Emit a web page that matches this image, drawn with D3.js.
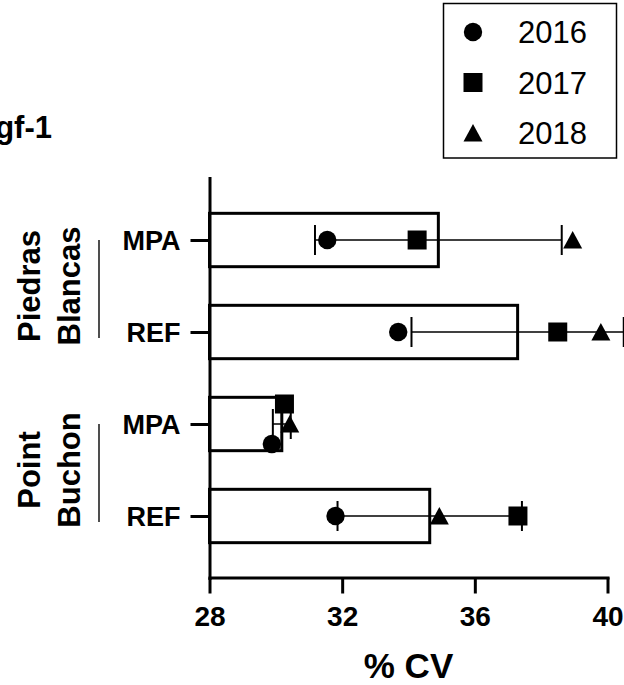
<!DOCTYPE html>
<html>
<head>
<meta charset="utf-8">
<script src="https://cdn.jsdelivr.net/npm/d3@7"></script>
<style>
  html, body { margin: 0; padding: 0; background: #fff; }
  svg { display: block; font-family: "Liberation Sans", Arial, sans-serif; }
</style>
</head>
<body>
<svg id="chart" width="624" height="685"></svg>
<script>
// Row labels (top to bottom) and their site groups
const rowLabels = ["MPA", "REF", "MPA", "REF"];
const siteGroups = [["Piedras", "Blancas"], ["Point", "Buchon"]];
const groupRows = [[0, 1], [2, 3]];

// Per-year %CV for each row
const years = ["2016", "2017", "2018"];
const cv2016 = [31.55, 33.69, 29.88, 31.80];
const cv2017 = [34.26, 38.50, 30.26, 37.30];
const cv2018 = [38.95, 39.80, 30.42, 34.93];

// Bar = mean across years, whisker = SD
const cvMean = [34.90, 37.29, 30.18, 34.64];
const cvSD = [3.72, 3.20, 0.27, 2.78];

// Axis ticks
const xTicks = [28, 32, 36, 40];
const xTitle = "% CV";
const panelTitle = "gf-1";

const svg = d3.select("#chart");
const rowKeys = rowLabels.map((d, i) => i);

const x = d3.scaleLinear().domain([28, 40]).range([209.5, 607.5]);
const y = d3.scalePoint().domain(rowKeys).range([178, 578]).padding(0.674);
const barH = y.step() * 0.58;

// Bars (outlined, white fill)
svg.append("g").selectAll("rect")
  .data(cvMean)
  .join("rect")
  .attr("x", x(28))
  .attr("y", (d, i) => y(i) - barH / 2)
  .attr("width", d => x(d) - x(28))
  .attr("height", barH)
  .attr("fill", "#fff")
  .attr("stroke", "#000")
  .attr("stroke-width", 3);

// Axes
const yAxis = svg.append("g")
  .attr("transform", `translate(${x(28)},0)`)
  .call(d3.axisLeft(y).tickSize(19).tickSizeOuter(0).tickPadding(11)
    .tickFormat(i => rowLabels[i]));
const xAxis = svg.append("g")
  .attr("transform", "translate(0,577.5)")
  .call(d3.axisBottom(x).tickValues(xTicks).tickSize(16).tickSizeOuter(0).tickPadding(12)
    .tickFormat(d3.format("d")));

[yAxis, xAxis].forEach(g => {
  g.select(".domain").attr("stroke", "#000").attr("stroke-width", 3).attr("stroke-linecap", "square");
  g.selectAll(".tick line").attr("stroke", "#000").attr("stroke-width", 3);
  g.selectAll(".tick text")
    .attr("fill", "#000")
    .attr("font-family", "'Liberation Sans', Arial, sans-serif")
    .attr("font-weight", "bold")
    .attr("font-size", 27);
});
yAxis.selectAll(".tick text").attr("dy", "0.36em").attr("x", -29);
xAxis.selectAll(".tick text").attr("dy", "0.72em").attr("font-size", 28);

// Marker shapes
const markerSize = 19;
function markerPath(kind) {
  const s = markerSize / 2;
  if (kind === 0) return d3.symbol(d3.symbolCircle, Math.PI * 9.2 * 9.2)();
  if (kind === 1) return `M${-s},${-s}H${s}V${s}H${-s}Z`;
  return `M0,${-9}L${s},${8.5}L${-s},${8.5}Z`;
}

// Points with simple collision-avoiding vertical spread
const series = [cv2016, cv2017, cv2018];
const points = [];
rowKeys.forEach(r => {
  const pts = series.map((vals, k) => ({ row: r, kind: k, v: vals[r] }))
    .sort((a, b) => b.v - a.v);
  const placed = [];
  const offs = [0, -20, 20, -40, 40];
  pts.forEach(p => {
    for (const o of offs) {
      const hit = placed.some(q => Math.abs(x(q.v) - x(p.v)) < markerSize && Math.abs(q.off - o) < markerSize);
      if (!hit) { p.off = o; break; }
    }
    placed.push(p);
    points.push(p);
  });
});

svg.append("g").selectAll("path")
  .data(points)
  .join("path")
  .attr("d", d => markerPath(d.kind))
  .attr("transform", d => `translate(${x(d.v)},${y(d.row) + d.off})`)
  .attr("fill", "#000");

// Error bars (mean ± SD)
const eb = svg.append("g").attr("stroke", "#000");
cvMean.forEach((m, i) => {
  const lo = x(m - cvSD[i]), hi = x(m + cvSD[i]), cy = y(i);
  eb.append("line").attr("x1", lo).attr("x2", hi).attr("y1", cy).attr("y2", cy).attr("stroke-width", 1.5);
  [lo, hi].forEach(cx => eb.append("line")
    .attr("x1", cx).attr("x2", cx).attr("y1", cy - 15).attr("y2", cy + 15).attr("stroke-width", 2));
});

// Site group labels with separator lines
siteGroups.forEach((lines, g) => {
  const [a, b] = groupRows[g];
  const cy = (y(a) + y(b)) / 2;
  lines.forEach((t, j) => {
    svg.append("text")
      .attr("transform", `translate(${40 + j * 40},${cy}) rotate(-90)`)
      .attr("text-anchor", "middle")
      .attr("font-weight", "bold")
      .attr("font-size", 31)
      .attr("fill", "#000")
      .text(t);
  });
  svg.append("line")
    .attr("x1", 99).attr("x2", 99)
    .attr("y1", y(a)).attr("y2", y(b) + 6)
    .attr("stroke", "#222").attr("stroke-width", 1.6);
});

// Axis title
svg.append("text")
  .attr("x", (x(28) + x(40)) / 2)
  .attr("y", 678)
  .attr("text-anchor", "middle")
  .attr("font-weight", "bold")
  .attr("font-size", 35)
  .attr("fill", "#000")
  .text(xTitle);

// Panel title
svg.append("text")
  .attr("x", 52)
  .attr("y", 138)
  .attr("text-anchor", "end")
  .attr("font-weight", "bold")
  .attr("font-size", 31)
  .attr("fill", "#000")
  .text(panelTitle);

// Legend
const lg = svg.append("g");
lg.append("rect")
  .attr("x", 443.5).attr("y", 3.5).attr("width", 173).attr("height", 154.5)
  .attr("fill", "#fff").attr("stroke", "#000").attr("stroke-width", 1.5);
years.forEach((yr, k) => {
  const cy = 32 + k * 50.5;
  lg.append("path").attr("d", markerPath(k)).attr("transform", `translate(473,${cy})`).attr("fill", "#000");
  lg.append("text")
    .attr("x", 518).attr("y", cy + 11)
    .attr("font-size", 31)
    .attr("fill", "#000")
    .text(yr);
});
</script>
</body>
</html>
